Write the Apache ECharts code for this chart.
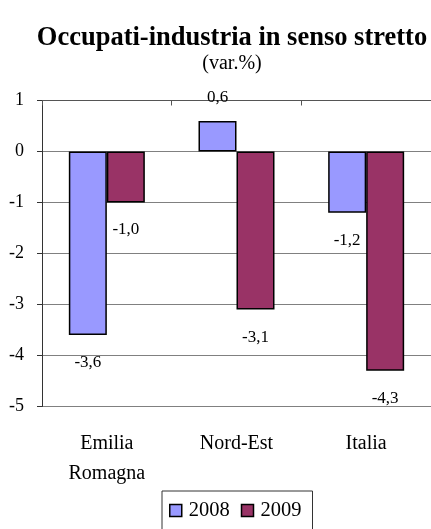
<!DOCTYPE html>
<html><head><meta charset="utf-8">
<script src="https://cdn.jsdelivr.net/npm/echarts@6/dist/echarts.min.js"></script>
<style>html,body{margin:0;padding:0;background:#fff}#c{width:431px;height:529px}</style>
</head><body><div id="c"></div>
<script>
const categories = ['Emilia\nRomagna', 'Nord-Est', 'Italia'];
const values2008 = [-3.6, 0.6, -1.2];
const values2009 = [-1.0, -3.1, -4.3];
const seriesNames = ['2008', '2009'];
const yTicks = {min: -5, max: 1, interval: 1};

const FONT = '"Liberation Serif", "DejaVu Serif", serif';
function fmt(p) { return p.value.toFixed(1).replace('.', ','); }
function mkSeries(name, vals, color) {
  return {
    name: name, type: 'bar', xAxisIndex: 0, yAxisIndex: 0,
    barWidth: 38, barGap: '0%',
    itemStyle: {color: color, borderColor: '#000', borderWidth: 1.5},
    data: vals.map(v => ({
      value: v,
      label: {
        show: true,
        position: v < 0 ? 'bottom' : 'top',
        distance: v < 0 ? 19 : 15,
        formatter: fmt,
        fontFamily: FONT, fontSize: 17, color: '#000'
      }
    }))
  };
}
const chart = echarts.init(document.getElementById('c'), null, {renderer: 'canvas'});
chart.setOption({
  animation: false,
  backgroundColor: '#fff',
  title: [{
    text: 'Occupati-industria in senso stretto',
    left: 227, top: 20, textAlign: 'center',
    textStyle: {fontFamily: FONT, fontSize: 26.5, fontWeight: 'bold', color: '#000'}
  }, {
    text: '(var.%)',
    left: 227, top: 49, textAlign: 'center',
    textStyle: {fontFamily: FONT, fontSize: 20, fontWeight: 'normal', color: '#000'}
  }],
  legend: {
    left: 162, top: 491,
    data: seriesNames,
    itemWidth: 12, itemHeight: 12, itemGap: 11,
    padding: [9, 11, 9, 7],
    borderColor: '#333', borderWidth: 1,
    icon: 'rect',
    textStyle: {fontFamily: FONT, fontSize: 20.5, color: '#000', padding: [0, 0, 0, 2]},
    itemStyle: {borderColor: '#000', borderWidth: 1.5}
  },
  grid: {left: 42, top: 100.5, width: 390, height: 306, containLabel: false},
  xAxis: [{
    type: 'category', data: categories, position: 'bottom',
    axisLine: {show: false}, axisTick: {show: false},
    axisLabel: {fontFamily: FONT, fontSize: 20, color: '#000', margin: 22, lineHeight: 30}
  }, {
    type: 'category', data: categories, position: 'top',
    axisLine: {show: true, onZero: true, lineStyle: {color: '#555', width: 1}},
    axisTick: {show: true, inside: true, length: 5, lineStyle: {color: '#555'}},
    axisLabel: {show: false}
  }],
  yAxis: {
    type: 'value', min: yTicks.min, max: yTicks.max, interval: yTicks.interval,
    axisLine: {show: true, lineStyle: {color: '#333', width: 1}},
    axisTick: {show: true, length: 5, lineStyle: {color: '#333'}},
    splitLine: {lineStyle: {color: '#808080', width: 1}},
    axisLabel: {fontFamily: FONT, fontSize: 18, color: '#000', margin: 18, align: 'right'}
  },
  series: [
    mkSeries(seriesNames[0], values2008, '#9999FF'),
    mkSeries(seriesNames[1], values2009, '#993366')
  ]
});
</script></body></html>
